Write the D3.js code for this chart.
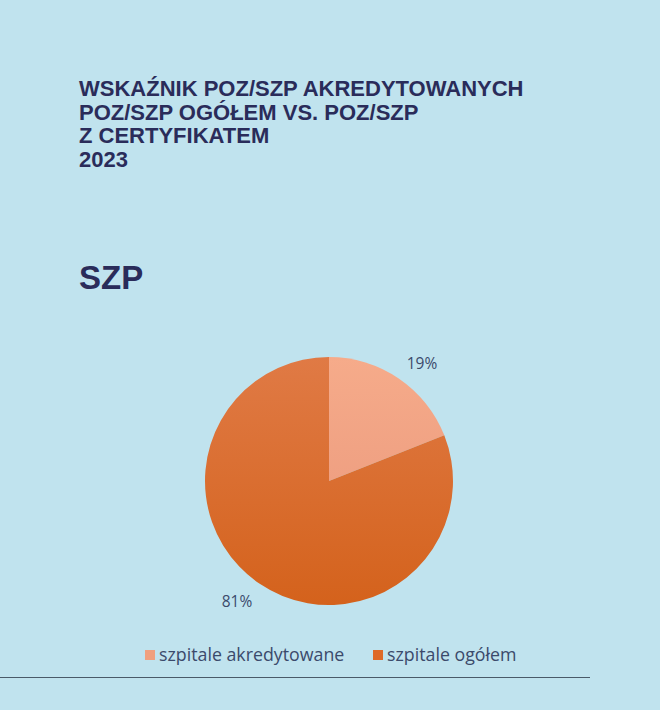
<!DOCTYPE html>
<html>
<head>
<meta charset="utf-8">
<script src="https://cdn.jsdelivr.net/npm/d3@7"></script>
<style>
  body { margin: 0; background: #c0e3ee; }
  svg { display: block; }
</style>
</head>
<body>
<svg id="chart" width="660" height="710"></svg>
<script>
const titleLines = ["WSKAŹNIK POZ/SZP AKREDYTOWANYCH", "POZ/SZP OGÓŁEM VS. POZ/SZP", "Z CERTYFIKATEM", "2023"];
const subtitle = "SZP";
const categories = ["szpitale akredytowane", "szpitale ogółem"];
const values = [19, 81];
const colorsTop = ["#f6ab8a", "#e07a45"];
const colorsBottom = ["#e8957a", "#d4621c"];
const legendColors = ["#f0a07e", "#de6a28"];

const width = 660, height = 710;
const cx = 329, cy = 481, radius = 124;

const svg = d3.select("#chart");

svg.append("rect").attr("width", width).attr("height", height).attr("fill", "#c0e3ee");

// gradients
const defs = svg.append("defs");
categories.forEach((c, i) => {
    const g = defs.append("linearGradient")
        .attr("id", "grad" + i)
        .attr("gradientUnits", "userSpaceOnUse")
        .attr("x1", 0).attr("y1", -radius).attr("x2", 0).attr("y2", radius);
    g.append("stop").attr("offset", "0%").attr("stop-color", colorsTop[i]);
    g.append("stop").attr("offset", "100%").attr("stop-color", colorsBottom[i]);
});

// title
svg.append("g").selectAll("text")
    .data(titleLines)
    .join("text")
    .attr("x", 79)
    .attr("y", (d, i) => 96 + i * 23.5)
    .attr("font-family", "Liberation Sans, Arial, sans-serif")
    .attr("font-weight", "bold")
    .attr("font-size", 22)
    .attr("fill", "#2a2c5a")
    .text(d => d);

svg.append("text")
    .attr("x", 79).attr("y", 289)
    .attr("font-family", "Liberation Sans, Arial, sans-serif")
    .attr("font-weight", "bold")
    .attr("font-size", 33)
    .attr("fill", "#2a2c5a")
    .text(subtitle);

// pie
const data = categories.map((c, i) => ({ key: c, value: values[i], idx: i }));
const pie = d3.pie().value(d => d.value).sort(null);
const arc = d3.arc().innerRadius(0).outerRadius(radius);
const arcs = pie(data);

const container = svg.append("g").attr("transform", `translate(${cx}, ${cy})`);
container.selectAll("path")
    .data(arcs)
    .join("path")
    .attr("fill", d => `url(#grad${d.data.idx})`)
    .attr("d", arc);

// labels outside
const labelPos = [[93, -112], [-92, 126]];
container.selectAll("text.lbl")
    .data(arcs)
    .join("text")
    .attr("class", "lbl")
    .attr("x", (d, i) => labelPos[i][0])
    .attr("y", (d, i) => labelPos[i][1])
    .attr("text-anchor", "middle")
    .attr("font-family", "Open Sans, sans-serif")
    .attr("font-size", 15.5)
    .attr("fill", "#3b4a6b")
    .text(d => d.data.value + "%");

// legend
const legendX = [145, 373];
const legend = svg.append("g").selectAll("g")
    .data(data)
    .join("g")
    .attr("transform", (d, i) => `translate(${legendX[i]}, 650)`);
legend.append("rect")
    .attr("width", 10).attr("height", 10)
    .attr("fill", d => legendColors[d.idx]);
legend.append("text")
    .attr("x", 14).attr("y", 10.5)
    .attr("font-family", "Open Sans, sans-serif")
    .attr("font-size", 17.8)
    .attr("fill", "#3b4a6b")
    .text(d => d.key);

// bottom rule
svg.append("line")
    .attr("x1", 0).attr("x2", 590)
    .attr("y1", 677.5).attr("y2", 677.5)
    .attr("stroke", "#4a5a68").attr("stroke-width", 1);
</script>
</body>
</html>
